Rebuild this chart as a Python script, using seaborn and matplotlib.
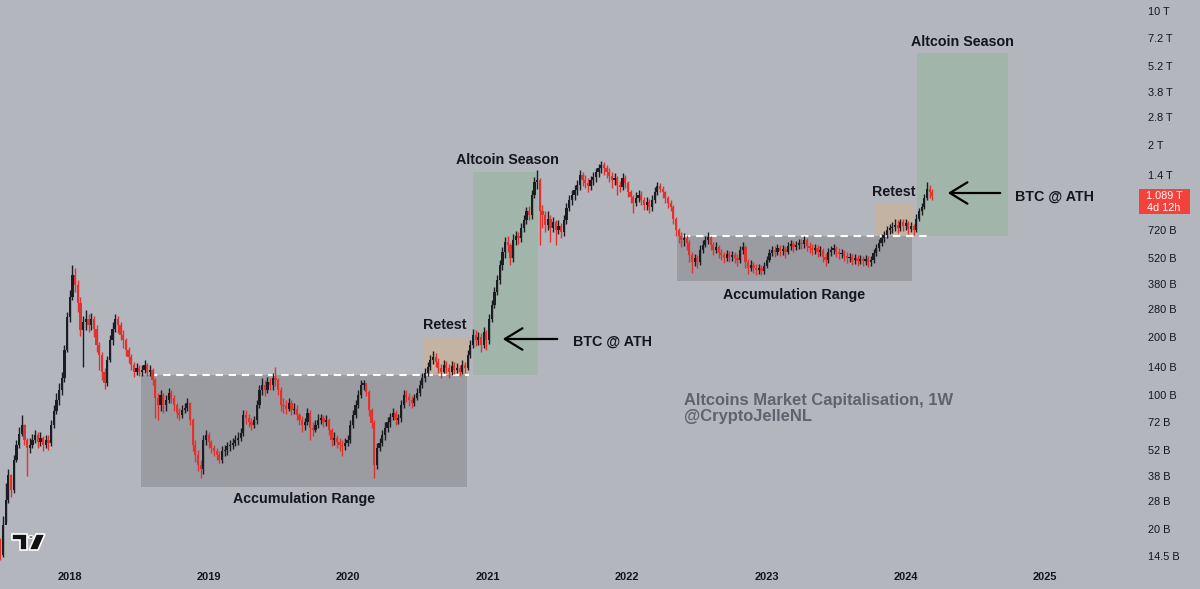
import matplotlib
matplotlib.use("Agg")
import matplotlib.pyplot as plt
import matplotlib.dates as mdates
import matplotlib.ticker as mticker
from matplotlib.patches import Polygon, Rectangle, Circle, FancyArrowPatch
import numpy as np
import pandas as pd
import seaborn as sns

# weekly candles, values in billions of USD (open = previous close)
start_week = "2017-07-03"
first_open = 17.6

closes = [
    14.7, 21, 28.4, 38.3, 32, 46, 55, 63, 70, 58,
    53, 55, 58, 62, 57, 59.5, 55, 58, 56, 70,
    83, 94, 106, 123, 172, 255, 324, 422, 374, 300,
    218, 240, 250, 231, 250, 222, 182, 161, 132, 116,
    152, 193, 222, 250, 231, 205, 193, 172, 158, 143,
    132, 138, 132, 135, 143, 132, 135, 120, 97, 89,
    100, 89, 94, 102, 96, 89, 81, 79, 84, 86,
    91, 74, 55, 48.7, 43, 41, 58, 62, 57, 53,
    51, 48.7, 46, 51, 52, 54, 55, 56, 58, 60,
    63.5, 79, 76, 72.5, 70, 74, 89, 106, 113, 106,
    117, 113, 123, 120, 106, 89, 88, 85, 91, 83.5,
    85, 79, 74, 70, 72.5, 81, 67.5, 66, 70, 74,
    76, 72.5, 74, 66, 58, 59.5, 57, 55, 54, 56,
    58, 70, 79, 89, 100, 113, 116, 104, 83.5, 71.5,
    43, 53, 56, 62, 67.5, 72.5, 77, 81, 74, 76,
    89, 100, 97.5, 94, 91, 96, 102, 113, 123, 130,
    140, 152, 158, 148, 138, 132, 143, 138, 132, 142,
    135, 138, 132, 143, 138, 161, 182, 205, 193, 200,
    182, 212, 193, 250, 294, 345, 397, 475, 555, 625,
    604, 515, 641, 675, 658, 740, 815, 905, 866, 1100,
    1290, 1318, 905, 866, 768, 830, 740, 800, 723, 760,
    710, 815, 940, 1037, 1100, 1170, 1240, 1400, 1318, 1270,
    1225, 1318, 1365, 1450, 1520, 1577, 1520, 1450, 1380, 1318,
    1350, 1240, 1210, 1350, 1270, 1140, 1070, 1000, 1060, 1100,
    1037, 976, 1010, 950, 1037, 1140, 1225, 1190, 1140, 1060,
    1000, 950, 830, 723, 675, 641, 658, 617, 536, 495,
    515, 495, 569, 604, 641, 665, 604, 569, 590, 550,
    536, 515, 545, 525, 536, 515, 505, 569, 590, 495,
    460, 475, 460, 448, 460, 442, 470, 505, 550, 569,
    555, 583, 562, 576, 555, 597, 612, 590, 604, 617,
    612, 641, 597, 583, 569, 583, 555, 569, 525, 505,
    555, 569, 583, 555, 545, 550, 530, 515, 525, 505,
    515, 500, 510, 500, 510, 495, 505, 550, 583, 617,
    658, 681, 723, 740, 750, 768, 740, 800, 760, 790,
    730, 760, 723, 830, 905, 950, 1060, 1190, 1140, 1089,
]

highs = [
    18, 23.5, 35, 41, 39, 49, 58, 68, 79, 71,
    60, 60, 63, 66, 64, 64, 61, 62, 62, 74,
    89, 102, 116, 132, 182, 270, 352, 475, 458, 397,
    324, 257, 277, 265, 268, 257, 231, 189, 168, 138,
    160, 205, 240, 265, 257, 240, 218, 198, 178, 164,
    148, 146, 143, 143, 152, 147, 143, 138, 123, 103,
    106, 103, 100, 109, 106, 100, 91, 86, 89, 91,
    97, 92, 76, 58, 52, 46, 62, 66, 64, 58,
    55, 53, 51, 54, 55, 57, 58, 60, 62, 64,
    67.5, 84, 84, 80, 76, 78, 94, 113, 123, 120,
    124, 123, 130, 140, 123, 110, 96, 94, 97, 94,
    91, 89, 81, 78, 76, 86, 84, 72.5, 74, 80,
    80, 79, 79, 76, 67.5, 64, 62, 59.5, 58, 59.5,
    62, 74, 84, 94, 106, 120, 120, 114, 106, 86,
    74, 56, 60, 66, 72, 77, 81, 86, 84, 80,
    94, 106, 106, 102, 99, 101, 109, 120, 130, 138,
    148, 161, 170, 166, 155, 145, 152, 150, 145, 150,
    148, 146, 143, 152, 148, 172, 193, 222, 218, 212,
    210, 226, 218, 265, 312, 365, 422, 505, 590, 665,
    672, 617, 690, 715, 710, 785, 866, 950, 965, 1170,
    1370, 1486, 1350, 976, 905, 905, 866, 850, 815, 815,
    785, 866, 1000, 1100, 1170, 1240, 1318, 1486, 1450, 1400,
    1350, 1380, 1450, 1520, 1595, 1650, 1630, 1577, 1520, 1450,
    1430, 1380, 1300, 1430, 1400, 1300, 1170, 1100, 1140, 1170,
    1150, 1070, 1070, 1050, 1100, 1210, 1290, 1270, 1225, 1155,
    1085, 1037, 976, 850, 745, 710, 700, 681, 641, 555,
    545, 536, 604, 641, 675, 710, 675, 625, 625, 604,
    576, 555, 569, 562, 562, 555, 545, 597, 625, 604,
    510, 505, 495, 482, 482, 475, 495, 530, 576, 597,
    597, 612, 604, 604, 597, 625, 641, 633, 633, 650,
    650, 675, 658, 625, 612, 612, 604, 597, 583, 550,
    583, 597, 612, 597, 583, 576, 569, 555, 550, 545,
    545, 536, 536, 530, 536, 530, 530, 576, 612, 650,
    690, 715, 760, 780, 800, 822, 815, 830, 822, 822,
    810, 800, 780, 875, 940, 1000, 1115, 1290, 1241, 1185,
]

lows = [
    13.8, 14.3, 21.8, 27.5, 29.5, 31, 45, 53, 61, 55,
    38, 50, 53, 56, 53, 54, 51, 53, 52, 54,
    67, 80, 89, 100, 117, 168, 240, 312, 345, 270,
    203, 140, 218, 212, 218, 200, 168, 135, 120, 108,
    112, 148, 182, 212, 210, 193, 176, 160, 146, 135,
    124, 127, 125, 126, 130, 126, 126, 113, 76, 74,
    83, 81, 83, 91, 91, 83, 76, 74, 76, 81,
    83, 70, 51, 45, 40, 37, 39, 55, 53, 50,
    48, 46, 44, 44.5, 48, 49, 51, 52.5, 54, 55,
    57.5, 61, 71, 68, 66, 67, 71, 86, 100, 99,
    102, 106, 106, 112, 100, 83, 81, 80, 83, 78.7,
    80, 74, 70, 64, 66, 70, 58, 61, 64, 67,
    71, 68, 69, 62, 54.5, 55, 53, 51, 48, 52,
    54, 56, 67, 76, 86, 96, 106, 99, 78, 67,
    37, 41, 51, 54, 58, 64, 68, 74, 70, 71,
    72, 86, 92, 88, 86, 88, 94, 99, 109, 117,
    126, 135, 145, 140, 130, 123, 130, 130, 123, 127,
    128, 130, 126, 128, 131, 135, 156, 176, 180, 182,
    168, 176, 172, 185, 240, 283, 330, 378, 448, 515,
    555, 475, 495, 604, 612, 625, 710, 780, 815, 830,
    1060, 1190, 604, 740, 710, 723, 625, 710, 604, 690,
    658, 675, 780, 905, 976, 1037, 1100, 1170, 1225, 1200,
    1140, 1170, 1240, 1290, 1365, 1430, 1400, 1350, 1290, 1200,
    1240, 1100, 1140, 1170, 1200, 1070, 1000, 890, 965, 1015,
    976, 920, 920, 890, 910, 1000, 1100, 1140, 1060, 1000,
    940, 905, 780, 675, 617, 590, 597, 569, 495, 430,
    468, 460, 475, 550, 590, 612, 569, 536, 550, 515,
    505, 485, 500, 495, 500, 485, 468, 485, 545, 460,
    428, 440, 434, 422, 428, 422, 428, 460, 495, 530,
    525, 536, 530, 536, 515, 545, 569, 555, 569, 576,
    576, 583, 562, 550, 536, 545, 525, 530, 495, 468,
    485, 530, 545, 525, 510, 515, 500, 485, 495, 475,
    482, 468, 482, 468, 475, 463, 468, 485, 530, 562,
    597, 625, 658, 690, 700, 715, 700, 715, 715, 723,
    690, 710, 681, 710, 810, 866, 930, 1037, 1060, 1037,
]

# price scale
y_ticks = [14.5, 20, 28, 38, 52, 72, 100, 140, 200, 280, 380, 520, 720,
           1400, 2000, 2800, 3800, 5200, 7200, 10000]
y_tick_labels = ["14.5 B", "20 B", "28 B", "38 B", "52 B", "72 B", "100 B",
                 "140 B", "200 B", "280 B", "380 B", "520 B", "720 B",
                 "1.4 T", "2 T", "2.8 T", "3.8 T", "5.2 T", "7.2 T", "10 T"]
years = [2018, 2019, 2020, 2021, 2022, 2023, 2024, 2025]

# zones: (start, end, bottom, top)
accum_zones = [("2018-07-06", "2020-11-06", 33, 127), ("2022-05-12", "2024-01-17", 392, 673)]
retest_zones = [("2020-07-15", "2020-11-14", 127, 200), ("2023-10-15", "2024-01-19", 673, 988)]
season_zones = [("2020-11-22", "2021-05-12", 127, 1450), ("2024-01-30", "2024-09-25", 673, 6045)]
range_lines = [("2018-07-29", "2020-11-12", 127), ("2022-05-27", "2024-02-27", 673)]

last_price = "1.089 T"
countdown = "4d 12h"

BG = "#b4b6be"
UP = "#1c1d23"
DOWN = "#e3322c"
TXT = "#15161c"
W, H = 1200, 589

sns.set_theme(style="white")
plt.rcParams["font.family"] = ["Liberation Sans", "DejaVu Sans"]

df = pd.DataFrame({
    "date": pd.date_range(start_week, periods=len(closes), freq="7D"),
    "close": closes, "high": highs, "low": lows,
})
df["open"] = [first_open] + closes[:-1]
df["x"] = mdates.date2num(df["date"])
up = df["close"] >= df["open"]
colors = np.where(up, UP, DOWN)

fig = plt.figure(figsize=(12, 5.89), dpi=100)
fig.patch.set_facecolor(BG)
ax = fig.add_axes([0, 23 / H, 1133 / W, 566 / H])
ax.set_facecolor(BG)
ax.set_yscale("log")


def dn(s):
    return mdates.date2num(pd.Timestamp(s))


for s, e, b, t in accum_zones:
    ax.fill_between([dn(s), dn(e)], b, t, color="#9b9ca2", lw=0, zorder=1)
for s, e, b, t in retest_zones:
    ax.fill_between([dn(s), dn(e)], b, t, color="#c2b3a2", lw=0, zorder=1)
for s, e, b, t in season_zones:
    ax.fill_between([dn(s), dn(e)], b, t, color="#a2b5ab", lw=0, zorder=1)

for s, e, v in range_lines:
    line = pd.DataFrame({"x": [dn(s), dn(e)], "y": [v, v]})
    sns.lineplot(data=line, x="x", y="y", ax=ax, color="white", lw=1.5,
                 linestyle=(0, (3.5, 2.8)), zorder=2)

ax.vlines(df["x"], df["low"], df["high"], colors=colors, lw=1.0, zorder=3)
body_lo = np.minimum(df["open"], df["close"])
body_hi = np.maximum(df["open"], df["close"])
ax.bar(df["x"], body_hi - body_lo, bottom=body_lo, width=5.8, color=colors,
       lw=0, zorder=4)

ax.set_xlim(dn("2017-07-02"), dn("2025-08-19"))
ax.set_ylim(12.87, 11410)

ax.yaxis.tick_right()
ax.yaxis.set_minor_locator(mticker.NullLocator())
ax.set_yticks(y_ticks)
ax.set_yticklabels(y_tick_labels)
ax.set_xticks([dn(f"{y}-01-01") for y in years])
ax.set_xticklabels([str(y) for y in years], fontweight="bold")
ax.tick_params(axis="y", length=0, pad=11, labelsize=7.9, colors=TXT)
ax.tick_params(axis="x", length=0, pad=4, labelsize=7.9, colors=TXT)
ax.set_xlabel("")
ax.set_ylabel("")
for sp in ax.spines.values():
    sp.set_visible(False)


def fpx(x, y):
    return (x / W, 1 - y / H)


def label(x, y, s, **kw):
    fig.text(*fpx(x, y), s, fontsize=10.3, fontweight="bold", color=TXT,
             va="center", **kw)


label(507, 160, "Altcoin Season", ha="center")
label(962, 42, "Altcoin Season", ha="center")
label(445, 325, "Retest", ha="center")
label(894, 192, "Retest", ha="center")
label(304, 499, "Accumulation Range", ha="center")
label(794, 295, "Accumulation Range", ha="center")
label(573, 342, "BTC @ ATH", ha="left")
label(1015, 197, "BTC @ ATH", ha="left")

for x0, x1, y in [(560, 500, 339), (1003, 945, 193)]:
    fig.add_artist(FancyArrowPatch(
        fpx(x0, y), fpx(x1, y), transform=fig.transFigure,
        arrowstyle="->,head_length=0.9,head_width=0.55", lw=1.6,
        color="black", mutation_scale=14))

fig.text(*fpx(684, 401), "Altcoins Market Capitalisation, 1W", fontsize=11.9,
         fontweight="bold", color="#60636d", va="center", ha="left")
fig.text(*fpx(684, 417), "@CryptoJelleNL", fontsize=11.9,
         fontweight="bold", color="#60636d", va="center", ha="left")

# current price tag
x0, y0 = fpx(1139, 214)
fig.add_artist(Rectangle((x0, y0), 51 / W, 25 / H, transform=fig.transFigure,
                         fc="#f2423b", ec="none"))
fig.text(*fpx(1164, 196), last_price, fontsize=7.8, color="white",
         ha="center", va="center")
fig.text(*fpx(1164, 208), countdown, fontsize=7.8, color="white",
         ha="center", va="center")

# TradingView logo
logo_t = [(12, 534), (27, 534), (27, 550), (20, 550), (20, 540), (12, 540)]
logo_s = [(36, 534), (45, 534), (38, 550), (29, 550)]
for pts in (logo_t, logo_s):
    fig.add_artist(Polygon([fpx(x, y) for x, y in pts], closed=True,
                           transform=fig.transFigure, fc="#111111",
                           ec="white", lw=1.2))
fig.add_artist(Circle(fpx(31, 537), 2.6 / W, transform=fig.transFigure,
                      fc="#111111", ec="white", lw=1.0))

fig.savefig("out.png", dpi=100, facecolor=BG)
